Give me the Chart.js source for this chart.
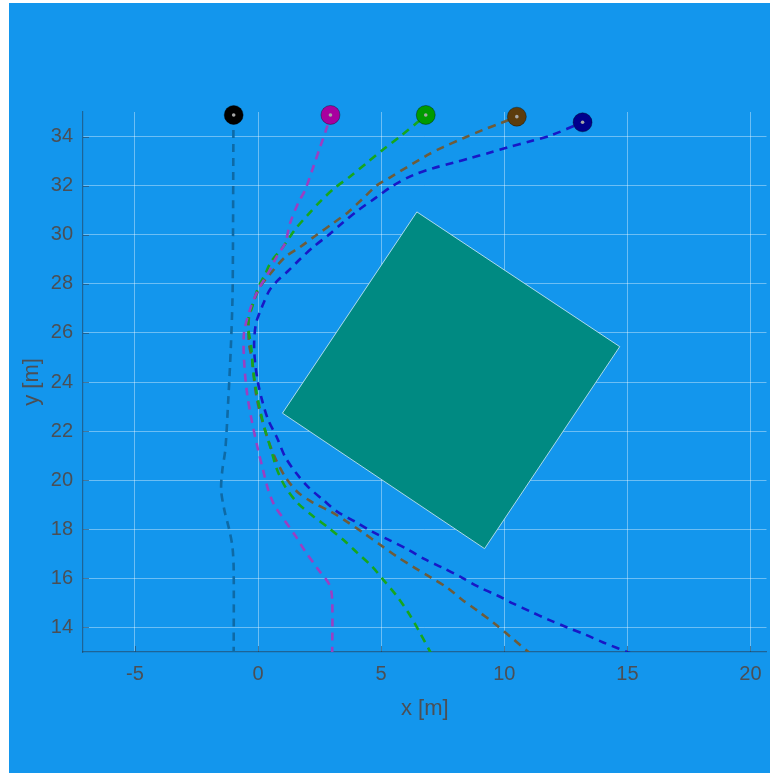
<!DOCTYPE html>
<html>
<head>
<meta charset="utf-8">
<script src="https://cdn.jsdelivr.net/npm/chart.js@4/dist/chart.umd.min.js"></script>
<style>
  html, body { margin: 0; padding: 0; background: #ffffff; overflow: hidden; }
  #wrap { position: absolute; left: 9px; top: 3px; width: 761px; height: 770px; background: #1396ed; overflow: hidden; }
  canvas { display: block; }
</style>
</head>
<body>
<div id="wrap"><canvas id="c" width="768" height="770"></canvas></div>
<script>
// Obstacle (square) corners
const obstacleX = [6.45, 14.69, 9.20, 0.99, 6.45];
const obstacleY = [30.93, 25.44, 17.21, 22.73, 30.93];

// Robot trajectories, bottom to top
const robot1X = [-0.99, -0.99, -1.04, -1.17, -1.37, -1.50, -1.45, -1.33, -1.21, -1.11, -1.04, -1.02, -1.00, -0.99];
const robot1Y = [12.9, 16.35, 17.28, 17.98, 18.79, 19.60, 20.42, 21.24, 23.27, 25.31, 27.34, 29.37, 34.46, 34.88];

const robot2X = [3.01, 3.01, 2.90, 2.45, 1.87, 1.54, 1.06, 0.65, 0.41, 0.20, 0.00, -0.24, -0.45, -0.57, -0.57, -0.33, 0.00, 0.41, 0.77, 1.10, 1.30, 1.63, 1.91, 2.24, 2.52, 2.80, 2.94];
const robot2Y = [12.9, 15.13, 15.74, 16.35, 17.17, 17.70, 18.39, 19.00, 19.61, 20.43, 21.24, 22.34, 23.56, 24.90, 26.00, 26.94, 27.75, 28.44, 29.13, 29.66, 30.47, 31.29, 31.82, 32.75, 33.57, 34.38, 34.88];

const robot3X = [7.05, 6.50, 6.10, 5.65, 5.08, 4.63, 4.02, 3.54, 2.85, 2.20, 1.59, 1.10, 0.77, 0.53, 0.28, 0.08, -0.08, -0.20, -0.28, -0.41, -0.24, 0.00, 0.28, 0.53, 1.02, 1.50, 2.03, 2.56, 3.13, 3.74, 4.43, 5.08, 5.77, 6.46, 6.81];
const robot3Y = [12.9, 13.92, 14.61, 15.26, 15.95, 16.48, 17.05, 17.50, 18.07, 18.56, 19.09, 19.74, 20.43, 21.24, 22.06, 22.87, 23.68, 24.50, 25.43, 26.41, 27.06, 27.84, 28.37, 28.90, 29.51, 30.21, 30.82, 31.39, 31.92, 32.37, 32.94, 33.47, 34.00, 34.57, 34.88];

const robot4X = [11.10, 10.24, 9.55, 8.90, 8.29, 7.68, 7.03, 6.30, 5.65, 4.96, 4.27, 3.62, 2.97, 2.24, 1.59, 1.10, 0.69, 0.41, 0.16, -0.04, -0.16, -0.24, -0.37, -0.37, -0.20, 0.08, 0.49, 1.10, 1.71, 2.36, 3.05, 3.66, 4.23, 4.84, 5.37, 6.87, 7.52, 8.33, 9.11, 9.84, 10.51];
const robot4Y = [12.9, 13.63, 14.20, 14.69, 15.13, 15.62, 16.03, 16.47, 16.88, 17.37, 17.86, 18.30, 18.71, 19.08, 19.53, 20.14, 20.91, 21.64, 22.46, 23.27, 24.09, 24.90, 25.59, 26.65, 27.22, 27.87, 28.40, 29.09, 29.50, 29.98, 30.47, 30.92, 31.45, 32.02, 32.34, 33.24, 33.57, 33.93, 34.26, 34.54, 34.81];

const robot5X = [15.20, 14.02, 13.29, 12.56, 11.79, 11.06, 10.37, 9.72, 8.94, 8.21, 7.48, 6.79, 6.10, 5.37, 4.63, 3.94, 3.21, 2.64, 2.03, 1.54, 1.10, 0.77, 0.41, 0.16, 0.00, -0.12, -0.16, -0.08, 0.16, 0.45, 0.77, 1.22, 1.71, 2.24, 2.85, 3.46, 4.07, 4.76, 5.45, 6.30, 7.11, 7.93, 8.62, 9.43, 10.16, 11.06, 11.87, 13.18];
const robot5Y = [12.92, 13.39, 13.71, 14.00, 14.32, 14.65, 14.97, 15.30, 15.66, 16.07, 16.44, 16.77, 17.17, 17.54, 17.90, 18.31, 18.72, 19.20, 19.73, 20.30, 20.95, 21.73, 22.46, 23.27, 23.96, 24.78, 25.59, 26.40, 27.06, 27.71, 28.11, 28.52, 29.01, 29.50, 29.98, 30.51, 31.00, 31.49, 31.98, 32.43, 32.71, 32.93, 33.12, 33.35, 33.56, 33.81, 34.04, 34.58];

// Current robot positions
const robotPosX = [-0.99, 2.94, 6.81, 10.51, 13.18];
const robotPosY = [34.88, 34.88, 34.88, 34.81, 34.58];

const lineColors = ['#0e6aa6', '#9a3fc2', '#17a61d', '#6e5c3a', '#1818c6'];
const markerColors = ['#000000', '#a8009f', '#009a00', '#5c3c0c', '#00008c'];

const xTicks = [-5, 0, 5, 10, 15, 20];
const yTicks = [14, 16, 18, 20, 22, 24, 26, 28, 30, 32, 34];

const zip = (xs, ys) => xs.map((x, i) => ({ x: x, y: ys[i] }));

const trajectories = [
  [robot1X, robot1Y], [robot2X, robot2Y], [robot3X, robot3Y], [robot4X, robot4Y], [robot5X, robot5Y]
];

const datasets = [];
datasets.push({
  label: 'obstacle',
  data: zip(obstacleX, obstacleY),
  showLine: true,
  fill: 'shape',
  backgroundColor: '#008a82',
  borderColor: 'rgba(190,225,240,0.9)',
  borderWidth: 1,
  pointRadius: 0,
  tension: 0,
  order: 10
});
trajectories.forEach((t, i) => {
  datasets.push({
    label: 'path ' + (i + 1),
    data: zip(t[0], t[1]),
    showLine: true,
    borderColor: lineColors[i],
    borderWidth: 2.6,
    borderDash: [8, 6],
    pointRadius: 0,
    tension: 0.3,
    fill: false,
    order: 5
  });
});
datasets.push({
  label: 'robots',
  data: zip(robotPosX, robotPosY),
  showLine: false,
  pointRadius: 9.5,
  pointBackgroundColor: markerColors,
  pointBorderColor: 'rgba(0,0,0,0.35)',
  pointBorderWidth: 1,
  clip: false,
  order: 2
});
datasets.push({
  label: 'centres',
  data: zip(robotPosX, robotPosY),
  showLine: false,
  pointRadius: 1.8,
  pointBackgroundColor: '#a7a7a7',
  pointBorderWidth: 0,
  clip: false,
  order: 1
});

const axisColor = 'rgba(40,60,80,0.55)';

// Short inward tick marks along the left and bottom axes
const innerTicks = {
  id: 'innerTicks',
  afterDraw(chart) {
    const ctx = chart.ctx, a = chart.chartArea;
    const xs = chart.scales.x, ys = chart.scales.y;
    ctx.save();
    ctx.strokeStyle = axisColor;
    ctx.lineWidth = 1;
    ctx.beginPath();
    xTicks.forEach(v => {
      const px = Math.round(xs.getPixelForValue(v)) + 0.5;
      ctx.moveTo(px, a.bottom); ctx.lineTo(px, a.bottom - 6);
    });
    yTicks.forEach(v => {
      const py = Math.round(ys.getPixelForValue(v)) + 0.5;
      ctx.moveTo(a.left, py); ctx.lineTo(a.left + 6, py);
    });
    ctx.stroke();
    ctx.restore();
  }
};

new Chart(document.getElementById('c'), {
  type: 'scatter',
  data: { datasets: datasets },
  options: {
    responsive: false,
    animation: false,
    layout: { padding: { top: 109, right: 4, bottom: 0, left: 0 } },
    plugins: { legend: { display: false }, tooltip: { enabled: false } },
    scales: {
      x: {
        type: 'linear',
        min: -7.11,
        max: 20.65,
        z: 1,
        afterBuildTicks: s => { s.ticks = xTicks.map(v => ({ value: v })); },
        afterFit: s => { s.height = 121; s.paddingLeft = 0; s.paddingRight = 0; },
        grid: { color: 'rgba(255,255,255,0.38)', lineWidth: 1, drawTicks: false },
        border: { color: axisColor, width: 1.2 },
        ticks: {
          padding: 10,
          color: '#4b4f55',
          font: { family: 'Liberation Sans, Arial, sans-serif', size: 20 },
          maxRotation: 0
        },
        title: {
          display: true,
          text: 'x [m]',
          color: '#4b4f55',
          font: { family: 'Liberation Sans, Arial, sans-serif', size: 22 },
          padding: { top: 51, bottom: 51 }
        }
      },
      y: {
        type: 'linear',
        min: 13,
        max: 35,
        z: 1,
        afterBuildTicks: s => { s.ticks = yTicks.map(v => ({ value: v })); },
        afterFit: s => { s.width = 74; },
        grid: { color: 'rgba(255,255,255,0.38)', lineWidth: 1, drawTicks: false },
        border: { color: axisColor, width: 1.2 },
        ticks: {
          padding: 10,
          color: '#4b4f55',
          font: { family: 'Liberation Sans, Arial, sans-serif', size: 20 }
        },
        title: {
          display: true,
          text: 'y [m]',
          color: '#4b4f55',
          font: { family: 'Liberation Sans, Arial, sans-serif', size: 22 },
          padding: { top: 10, bottom: 10 }
        }
      }
    }
  },
  plugins: [innerTicks]
});
</script>
</body>
</html>
